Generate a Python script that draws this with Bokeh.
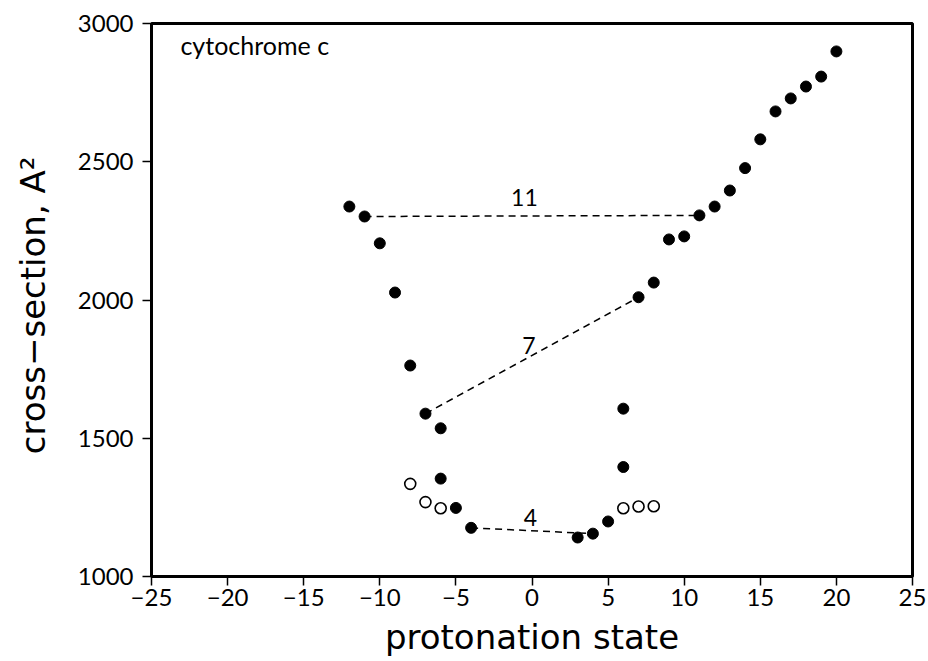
from bokeh.plotting import figure
from bokeh.models import Range1d, FixedTicker, Label
from bokeh.embed import file_html
from bokeh.resources import INLINE

# Collision cross-sections of cytochrome c ions vs. protonation state
filled_charge = [-12, -11, -10, -9, -8, -7, -6, -6, -5, -4, 3, 4, 5, 6, 6,
                 7, 8, 9, 10, 11, 12, 13, 14, 15, 16, 17, 18, 19, 20]
filled_xsec = [2338, 2302, 2205, 2027, 1763, 1589, 1536, 1354, 1248, 1176,
               1141, 1155, 1199, 1607, 1396, 2010, 2063, 2219, 2230, 2306,
               2338, 2396, 2477, 2581, 2682, 2729, 2772, 2808, 2899]

open_charge = [-8, -7, -6, 6, 7, 8]
open_xsec = [1335, 1269, 1247, 1247, 1253, 1254]

# Pairs of ions whose charge states differ by the labelled amount
pair_x0 = [-11, -7, -4]
pair_y0 = [2302, 1589, 1176]
pair_x1 = [11, 7, 4]
pair_y1 = [2306, 2010, 1155]
pair_labels = ["11", "7", "4"]
pair_label_x = [-0.5, -0.2, -0.1]
pair_label_y = [2372, 1835, 1215]

x_ticks = [-25, -20, -15, -10, -5, 0, 5, 10, 15, 20, 25]
y_ticks = [1000, 1500, 2000, 2500, 3000]

FONT = "Lato"
TITLE_FONT = "DejaVu Sans"

p = figure(width=928, height=661, output_backend="svg", toolbar_location=None,
           x_range=Range1d(-25, 25), y_range=Range1d(1000, 3000),
           min_border_left=151, min_border_right=16, min_border_top=23,
           min_border_bottom=85)

p.background_fill_color = "white"
p.border_fill_color = "white"
p.outline_line_color = "black"
p.outline_line_width = 3
p.xgrid.visible = False
p.ygrid.visible = False

for ax in (p.xaxis[0], p.yaxis[0]):
    ax.axis_line_width = 3
    ax.axis_line_color = "black"
    ax.major_tick_in = 0
    ax.major_tick_out = 9
    ax.major_tick_line_width = 1.5
    ax.minor_tick_line_color = None
    ax.major_label_text_font = FONT
    ax.major_label_text_font_size = "24px"
    ax.major_label_text_color = "black"
    ax.axis_label_text_font = TITLE_FONT
    ax.axis_label_text_font_style = "normal"
    ax.axis_label_text_font_size = "34px"
    ax.axis_label_text_color = "black"

p.xaxis.ticker = FixedTicker(ticks=x_ticks)
p.yaxis.ticker = FixedTicker(ticks=y_ticks)
p.xaxis.major_label_overrides = {t: str(t).replace("-", "\u2212") for t in x_ticks}
p.xaxis.major_label_standoff = 3
p.yaxis.major_label_standoff = 9
p.xaxis.axis_label = "protonation state"
p.yaxis.axis_label = "cross\u2212section,  A\u00b2"
p.xaxis.axis_label_standoff = 8
p.yaxis.axis_label_standoff = 22

# dashed connectors between paired charge states
p.segment(x0=pair_x0, y0=pair_y0, x1=pair_x1, y1=pair_y1,
          line_color="black", line_width=1.5, line_dash="7 5")

p.scatter(filled_charge, filled_xsec, marker="circle", size=11,
          fill_color="black", line_color="black")
p.scatter(open_charge, open_xsec, marker="circle", size=11,
          fill_color="white", line_color="black", line_width=1.6)

for lx, ly, txt in zip(pair_label_x, pair_label_y, pair_labels):
    p.add_layout(Label(x=lx, y=ly, text=txt, text_font=FONT,
                       text_font_size="23px", text_align="center",
                       text_baseline="middle", text_color="black"))

p.add_layout(Label(x=-23.1, y=2924, text="cytochrome c", text_font=FONT,
                   text_font_size="25px", text_align="left",
                   text_baseline="middle", text_color="black"))

open("out.html", "w").write(file_html(p, INLINE))
